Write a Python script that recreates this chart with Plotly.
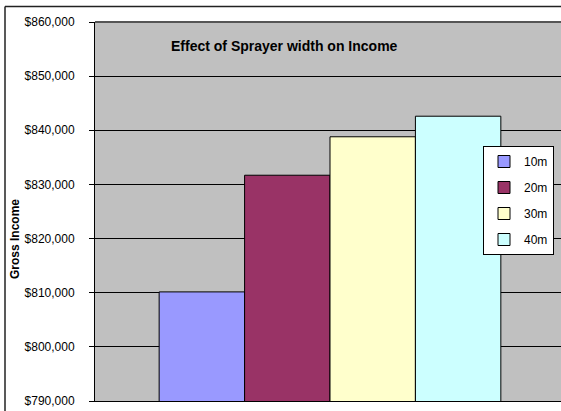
import plotly.graph_objects as go

series = ["10m", "20m", "30m", "40m"]
income = [810150, 831700, 838800, 842600]
colors = ["#9999FF", "#993366", "#FFFFCC", "#CCFFFF"]
category = ["Gross Income"]
y_ticks = [790000, 800000, 810000, 820000, 830000, 840000, 850000, 860000]

fig = go.Figure()
for i, (name, val, col) in enumerate(zip(series, income, colors)):
    fig.add_trace(go.Bar(
        x=category, y=[val], name=name, legendgroup=name,
        marker=dict(color=col, line=dict(color="#000000", width=1)),
    ))

PW, PH = 466, 379

fig.update_layout(
    width=561, height=411,
    margin=dict(l=95, r=0, t=22, b=10, autoexpand=False),
    paper_bgcolor="white", plot_bgcolor="#C0C0C0",
    barmode="group", bargap=0.273, bargroupgap=0,
    font=dict(family="Liberation Sans, Arial, sans-serif", size=12, color="#000"),
    showlegend=True,
    legend=dict(x=(554 - 95) / PW, y=(401 - 146) / PH, xanchor="right", yanchor="top",
                bgcolor="white", bordercolor="#000", borderwidth=1,
                font=dict(size=12), tracegroupgap=7,
                itemwidth=30),
    xaxis=dict(type="category", range=[-0.5, 0.4915], showticklabels=False,
               showgrid=False, showline=True, linecolor="#000", linewidth=1,
               ticks="", zeroline=False),
    yaxis=dict(range=[790000, 860000], tickvals=y_ticks, tickformat="$,.0f",
               showgrid=True, gridcolor="#000", gridwidth=1,
               showline=True, linecolor="#000", linewidth=1,
               ticks="outside", ticklen=5, tickcolor="#000",
               ticklabelstandoff=12, zeroline=False,
               tickfont=dict(size=12)),
    annotations=[
        dict(text="<b>Effect of Sprayer width on Income</b>", xref="paper", yref="paper",
             x=(284 - 95) / PW, y=(401 - 46) / PH, xanchor="center", yanchor="middle",
             showarrow=False, font=dict(size=14)),
        dict(text="<b>Gross Income</b>", xref="paper", yref="paper",
             x=(15 - 95) / PW, y=(401 - 239) / PH, xanchor="center", yanchor="middle",
             textangle=-90, showarrow=False, font=dict(size=12)),
    ],
    shapes=[
        dict(type="line", xref="paper", yref="paper", x0=0, x1=1.02, y0=1, y1=1,
             line=dict(color="#555555", width=2)),
        dict(type="line", xref="paper", yref="paper", x0=(5 - 95) / PW, x1=1.02,
             y0=1 + (22 - 6.5) / PH, y1=1 + (22 - 6.5) / PH,
             line=dict(color="#222222", width=1.5)),
        dict(type="line", xref="paper", yref="paper", x0=(5 - 95) / PW, x1=(5 - 95) / PW,
             y0=-0.05, y1=1 + (22 - 6.5) / PH,
             line=dict(color="#222222", width=1.5)),
    ],
)

fig.write_html("out.html", config={"displayModeBar": False},
               post_script="document.body.style.margin='0';document.body.style.padding='0';")
